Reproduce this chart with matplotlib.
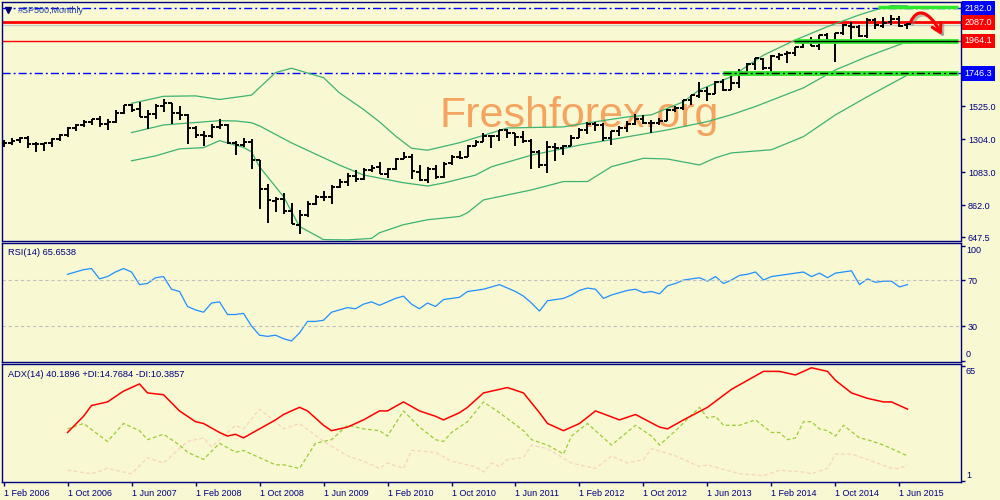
import matplotlib
matplotlib.use("Agg")
import matplotlib.pyplot as plt
import matplotlib.patheffects as pe
import matplotlib.transforms as mtransforms
from matplotlib.patches import FancyArrowPatch
from matplotlib.path import Path
import numpy as np

plt.rcParams["font.family"] = ["Liberation Sans", "DejaVu Sans"]

BG = "#F8F8D3"
NAVY = "#000080"

# ---------------------------------------------------------------------------
# data: monthly bars Feb 2006 .. Jul 2015 (index 0 = Feb 2006)
# ---------------------------------------------------------------------------
opens = [1280, 1281, 1302, 1311, 1270, 1270, 1278, 1304, 1336, 1378, 1401,
         1418, 1438, 1406, 1421, 1482, 1531, 1504, 1455, 1474, 1527, 1545, 1479,
         1468, 1379, 1331, 1327, 1386, 1400, 1281, 1267, 1283, 1164, 968, 888,
         903, 826, 730, 794, 873, 919, 920, 987, 1020, 1055, 1036, 1099,
         1116, 1074, 1105, 1171, 1188, 1088, 1031, 1107, 1049, 1143, 1185, 1187,
         1258, 1289, 1329, 1329, 1365, 1346, 1320, 1292, 1220, 1132, 1252, 1247,
         1258, 1313, 1366, 1408, 1398, 1310, 1362, 1380, 1407, 1441, 1412, 1416,
         1426, 1498, 1515, 1569, 1597, 1631, 1609, 1689, 1635, 1682, 1758, 1806,
         1845, 1783, 1858, 1874, 1885, 1924, 1962, 1930, 2005, 1972, 2019, 2065,
         2059, 1997, 2105, 2064, 2088, 2109, 2067]
highs = [1297, 1310, 1318, 1326, 1284, 1281, 1312, 1340, 1389, 1407, 1431,
         1441, 1461, 1439, 1499, 1535, 1541, 1556, 1503, 1539, 1576, 1546, 1524,
         1472, 1396, 1359, 1404, 1441, 1404, 1293, 1314, 1304, 1167, 1007, 919,
         943, 876, 832, 888, 930, 956, 996, 1039, 1080, 1101, 1113, 1130,
         1150, 1112, 1181, 1220, 1206, 1131, 1121, 1130, 1149, 1196, 1228, 1263,
         1302, 1344, 1333, 1364, 1371, 1346, 1357, 1308, 1230, 1293, 1278, 1269,
         1333, 1378, 1420, 1422, 1415, 1363, 1392, 1427, 1475, 1470, 1434, 1448,
         1509, 1530, 1570, 1598, 1687, 1654, 1698, 1710, 1730, 1775, 1814, 1849,
         1850, 1867, 1884, 1898, 1925, 1968, 1992, 2005, 2019, 2018, 2075, 2093,
         2073, 2120, 2118, 2126, 2135, 2130, 2080]
lows = [1253, 1268, 1280, 1245, 1219, 1224, 1253, 1290, 1322, 1360, 1385,
        1403, 1389, 1364, 1416, 1476, 1484, 1454, 1371, 1439, 1490, 1407, 1436,
        1271, 1316, 1257, 1312, 1373, 1272, 1201, 1250, 1107, 840, 741, 815,
        805, 735, 667, 783, 866, 888, 869, 979, 992, 1020, 1029, 1086,
        1071, 1045, 1101, 1171, 1041, 1028, 1011, 1040, 1048, 1131, 1173, 1187,
        1257, 1289, 1249, 1295, 1311, 1258, 1282, 1102, 1114, 1075, 1159, 1202,
        1258, 1312, 1340, 1358, 1291, 1267, 1325, 1355, 1397, 1404, 1343, 1399,
        1426, 1485, 1501, 1537, 1582, 1560, 1605, 1627, 1633, 1646, 1747, 1767,
        1770, 1738, 1834, 1815, 1863, 1916, 1931, 1905, 1965, 1821, 2001, 1973,
        1988, 1981, 2040, 2048, 2068, 2057, 2044]
closes = [1281, 1295, 1311, 1270, 1270, 1277, 1304, 1336, 1378, 1401, 1418,
          1438, 1407, 1421, 1482, 1531, 1503, 1455, 1474, 1527, 1549, 1481, 1468,
          1379, 1331, 1323, 1386, 1400, 1280, 1267, 1283, 1166, 969, 896, 903,
          826, 735, 798, 873, 919, 919, 987, 1021, 1057, 1036, 1096, 1115,
          1074, 1104, 1169, 1187, 1089, 1031, 1102, 1049, 1141, 1183, 1181, 1258,
          1286, 1327, 1326, 1364, 1345, 1321, 1292, 1219, 1131, 1253, 1247, 1258,
          1312, 1366, 1408, 1398, 1310, 1362, 1379, 1407, 1441, 1412, 1416, 1426,
          1498, 1515, 1569, 1598, 1631, 1606, 1686, 1633, 1682, 1757, 1806, 1848,
          1783, 1859, 1872, 1884, 1924, 1960, 1931, 2003, 1972, 2018, 2068, 2059,
          1995, 2105, 2068, 2086, 2107, 2063, 2077]

# Bollinger bands (at bar indices)
bb_up_idx = [16, 20, 24, 27, 31, 34, 36, 40, 42, 45, 47, 49, 51, 53, 57, 63, 70,
             73, 78, 81, 85, 87, 91, 95, 99, 103, 107, 109, 111, 113]
bb_up = [1545, 1592, 1595, 1571, 1600, 1751, 1780, 1717, 1615, 1504, 1421, 1326,
         1244, 1231, 1281, 1380, 1387, 1414, 1454, 1468, 1556, 1636, 1724, 1868,
         1970, 2059, 2138, 2171, 2200, 2198]
bb_mid_idx = [16, 20, 27, 29, 31, 32, 36, 42, 45, 50, 53, 55, 59, 61, 66, 72, 78,
              83, 88, 91, 94, 100, 104, 108, 113]
bb_mid = [1349, 1400, 1429, 1427, 1415, 1394, 1280, 1131, 1065, 1013, 991, 1011,
          1064, 1120, 1198, 1265, 1321, 1367, 1423, 1469, 1524, 1649, 1769, 1859,
          1959]
bb_low_idx = [16, 19, 22, 25, 27, 30, 31, 32, 35, 37, 40, 43, 46, 47, 50, 53, 57,
              58, 60, 66, 70, 73, 76, 80, 83, 87, 89, 91, 96, 100, 104, 108, 113]
bb_low = [1160, 1193, 1240, 1248, 1295, 1250, 1220, 1120, 920, 720, 632, 630, 640,
          678, 732, 765, 787, 812, 898, 965, 1021, 1021, 1121, 1177, 1172, 1132,
          1180, 1213, 1234, 1322, 1468, 1590, 1735]

# RSI(14), one value per bar from index 8 (Oct 2006)
rsi_start = 8
rsi = [75, 77, 79, 80, 71, 73, 77, 80, 77, 66, 67, 72, 73, 62, 60, 47, 44, 42, 50,
       51, 40, 40, 41, 30, 22, 21, 22, 19, 17, 24, 34, 34, 35, 42, 44, 46, 45, 49,
       51, 48, 51, 54, 56, 49, 45, 50, 47, 53, 54, 55, 60, 61, 62, 64, 66, 63, 60,
       56, 50, 43, 52, 53, 54, 57, 61, 63, 62, 54, 57, 59, 61, 62, 59, 60, 58, 65,
       67, 70, 71, 72, 69, 73, 67, 70, 74, 75, 77, 70, 73, 74, 75, 76, 77, 73, 76,
       72, 76, 77, 78, 66, 71, 68, 69, 69, 64, 66]

# ADX(14) with +DI / -DI
adx_idx = [8, 10, 11, 13, 15, 17, 18, 20, 22, 24, 25, 27, 28, 29, 30, 32, 34, 35,
           37, 38, 40, 41, 43, 45, 47, 48, 50, 52, 54, 55, 57, 58, 60, 62, 63, 65,
           67, 68, 70, 72, 74, 77, 79, 82, 83, 85, 88, 91, 95, 97, 99, 101, 103,
           104, 106, 108, 110, 111, 113]
adx = [28, 37, 43, 45, 51, 55, 50, 49, 40, 34, 33, 28, 26, 27, 25, 30, 35, 38, 42,
       40, 32, 29, 31, 35, 40, 40, 45, 40, 37, 35, 39, 42, 50, 52, 53, 50, 39, 33,
       29, 33, 40, 35, 38, 31, 30, 35, 42, 52, 62, 62, 60, 64, 62, 57, 50, 47, 45,
       45, 41]
pdi_idx = [8, 10, 13, 15, 17, 18, 20, 22, 23, 25, 27, 29, 30, 32, 34, 35, 37, 39,
           41, 43, 45, 47, 48, 50, 52, 54, 55, 56, 58, 60, 62, 65, 66, 68, 70, 71,
           73, 76, 79, 81, 82, 84, 87, 88, 89, 90, 92, 94, 96, 97, 98, 99, 100, 101,
           102, 103, 104, 105, 107, 108, 110, 111, 112, 113]
pdi = [30, 33, 23, 33, 29, 24, 27, 21, 17, 13, 22, 17, 18, 14, 10, 10, 8, 22, 24,
       32, 30, 29, 26, 40, 31, 24, 23, 28, 34, 45, 39, 29, 24, 21, 16, 26, 33, 21,
       32, 26, 21, 29, 42, 36, 37, 32, 32, 35, 28, 28, 24, 25, 34, 34, 30, 29, 26,
       32, 25, 24, 21, 19, 17, 15]
mdi_idx = [8, 11, 13, 16, 18, 20, 23, 25, 26, 29, 30, 32, 34, 35, 37, 40, 43, 45,
           47, 48, 50, 51, 54, 56, 59, 60, 61, 62, 63, 65, 66, 68, 71, 74, 76, 78,
           80, 81, 84, 87, 88, 92, 95, 97, 100, 101, 103, 104, 106, 108, 111, 112,
           113]
mdi = [7, 5, 8, 5, 14, 11, 23, 25, 20, 32, 30, 41, 34, 30, 33, 23, 15, 12, 8, 11,
       8, 18, 17, 12, 9, 6, 11, 9, 13, 14, 21, 19, 11, 8, 15, 11, 13, 19, 15, 9,
       10, 5, 4, 7, 6, 5, 8, 16, 16, 13, 8, 8, 10]

date_ticks = list(range(0, 113, 8))
date_labels = ["1 Feb 2006", "1 Oct 2006", "1 Jun 2007", "1 Feb 2008",
               "1 Oct 2008", "1 Jun 2009", "1 Feb 2010", "1 Oct 2010",
               "1 Jun 2011", "1 Feb 2012", "1 Oct 2012", "1 Jun 2013",
               "1 Feb 2014", "1 Oct 2014", "1 Jun 2015"]
price_ticks = [647.5, 862.0, 1083.0, 1304.0, 1525.0]

level_top = 2182.0
level_res = 2087.0
level_sup1 = 1964.1
level_sup2 = 1746.3

# ---------------------------------------------------------------------------
fig = plt.figure(figsize=(10, 5), dpi=100, facecolor=BG)


def px_axes(left, top, right, bottom):
    a = fig.add_axes([left / 1000, 1 - bottom / 500,
                      (right - left) / 1000, (bottom - top) / 500])
    a.set_facecolor(BG)
    for s in a.spines.values():
        s.set_color(NAVY)
        s.set_linewidth(1.0)
    a.set_xlim(-0.19, 119.69)
    return a


ax = px_axes(2, 2, 961, 240.5)
ax_rsi = px_axes(2, 243, 961, 362)
ax_adx = px_axes(2, 364, 961, 482.3)

# --- main price panel ------------------------------------------------------
ax.set_ylim(626, 2224)
x = np.arange(len(closes))
ax.vlines(x, lows, highs, color="black", lw=1.4, zorder=4)
ax.hlines(opens, x - 0.38, x, color="black", lw=1.4, zorder=4)
ax.hlines(closes, x, x + 0.38, color="black", lw=1.4, zorder=4)

band_color = "#3CB371"
ax.plot(bb_up_idx, bb_up, color=band_color, lw=0.9, zorder=3)
ax.plot(bb_mid_idx, bb_mid, color=band_color, lw=0.9, zorder=3)
ax.plot(bb_low_idx, bb_low, color=band_color, lw=0.9, zorder=3)

dashdot = (0, (5.8, 2.2, 1.4, 2.2))
ax.axhline(level_top, color="#0000FF", lw=1, ls=dashdot, zorder=2)
ax.axhline(level_res - 16, color="#C8C8C8", lw=1, zorder=2)
ax.axhline(level_res, color="#FF0000", lw=2, zorder=2)
ax.axhline(level_sup1, color="#FF0000", lw=1, zorder=2)
ax.axhline(level_sup2, color="#0000FF", lw=1, ls=dashdot, zorder=2)

# drawn support / resistance marks
green = "#2EE82E"
ax.hlines(2191, 109.3, 119.3, color=green, lw=2.5, zorder=5)
ax.hlines(level_sup1, 98.8, 119.3, color=green, lw=3.5, zorder=5)
ax.hlines(level_sup1, 98.8, 119.3, color="black", lw=1, zorder=6)
ax.hlines(level_sup2, 89.9, 119.3, color=green, lw=3.5, zorder=5)
ax.hlines(level_sup2, 89.9, 119.3, color="black", lw=1, ls=dashdot, zorder=6)

# curved red arrow
arrow_path = Path([(113.4, 2090), (114.1, 2177), (115.5, 2184), (117.3, 2003)],
                  [Path.MOVETO, Path.CURVE4, Path.CURVE4, Path.CURVE4])
arrow = FancyArrowPatch(path=arrow_path, arrowstyle="->,head_length=6,head_width=3.5",
                        color="#FF0000", lw=2.2, zorder=7,
                        path_effects=[pe.SimpleLineShadow(offset=(1.5, -1.5),
                                                          shadow_color="gray", alpha=0.5),
                                      pe.Normal()])
ax.add_patch(arrow)

# watermark
ax.text(0.4567, 0.476, "Freshforex.org", transform=ax.transAxes, fontsize=31,
        color="#F5A45F", ha="left", va="baseline", zorder=1)

# title
ax.plot([0.0063], [0.966], marker="v", ms=4.5, color=NAVY, transform=ax.transAxes,
        clip_on=False, zorder=8)
ax.text(0.0167, 0.966, "#SP500,Monthly", transform=ax.transAxes, fontsize=6.5,
        color="#2040A0", ha="left", va="center", zorder=8)

ax.set_xticks([])
ax.yaxis.tick_right()
ax.set_yticks(price_ticks)
ax.set_yticklabels([f"{v:.1f}" for v in price_ticks])
ax.tick_params(axis="y", direction="out", length=3, width=1, colors=NAVY,
               labelsize=6.5, pad=2)

blend = mtransforms.blended_transform_factory(ax.transAxes, ax.transData)
for val, col in [(level_top, "#0000FF"), (level_res, "#FF0000"),
                 (level_sup1, "#FF0000"), (level_sup2, "#0000FF")]:
    ax.text(1.0035, val, f"{val:.1f}", transform=blend, fontsize=6.5, color="white",
            ha="left", va="center", clip_on=False, zorder=9,
            bbox=dict(boxstyle="square,pad=0.3", fc=col, ec="none"))

# --- RSI panel -------------------------------------------------------------
ax_rsi.set_ylim(-1.3, 102.2)
ax_rsi.plot(np.arange(rsi_start, rsi_start + len(rsi)), rsi, color="#1E90FF", lw=0.9)
for lvl in (70, 30):
    ax_rsi.axhline(lvl, color="#C0C0C0", lw=0.8, ls=(0, (3, 2.5)))
ax_rsi.set_xticks([])
ax_rsi.yaxis.tick_right()
ax_rsi.set_yticks([0, 30, 70, 100])
ax_rsi.set_yticklabels(["", "30", "70", ""])
ax_rsi.tick_params(axis="y", direction="out", length=3, width=1, colors=NAVY,
                   labelsize=6.5, pad=2)
ax_rsi.text(1.0052, 0.941, "100", transform=ax_rsi.transAxes, fontsize=6.5,
            color=NAVY, va="center", clip_on=False)
ax_rsi.text(1.0052, 0.059, "0", transform=ax_rsi.transAxes, fontsize=6.5,
            color=NAVY, va="center", clip_on=False)
ax_rsi.text(0.0063, 0.916, "RSI(14) 65.6538", transform=ax_rsi.transAxes,
            fontsize=6.7, color=NAVY, va="center")

# --- ADX panel -------------------------------------------------------------
ax_adx.set_ylim(0.28, 66.1)
ax_adx.plot(mdi_idx, mdi, color="#F7D4BE", lw=0.9, ls=(0, (3, 2)))
ax_adx.plot(pdi_idx, pdi, color="#9ACD32", lw=0.9, ls=(0, (3, 2)))
ax_adx.plot(adx_idx, adx, color="#FF0000", lw=1.1)
ax_adx.yaxis.tick_right()
ax_adx.set_yticks([1, 65])
ax_adx.set_yticklabels(["", ""])
ax_adx.tick_params(axis="y", direction="out", length=3, width=1, colors=NAVY)
ax_adx.text(1.0052, 0.935, "65", transform=ax_adx.transAxes, fontsize=6.5,
            color=NAVY, va="center", clip_on=False)
ax_adx.text(1.0052, 0.056, "1", transform=ax_adx.transAxes, fontsize=6.5,
            color=NAVY, va="center", clip_on=False)
ax_adx.text(0.0063, 0.915, "ADX(14) 40.1896 +DI:14.7684 -DI:10.3857",
            transform=ax_adx.transAxes, fontsize=6.7, color=NAVY, va="center")

ax_adx.set_xticks(date_ticks)
ax_adx.set_xticklabels(date_labels)
ax_adx.tick_params(axis="x", direction="out", length=3, width=1, colors=NAVY,
                   labelsize=6.5, pad=1.5)
for lbl in ax_adx.get_xticklabels():
    lbl.set_horizontalalignment("left")

fig.savefig("out.png", dpi=100, facecolor=BG)
